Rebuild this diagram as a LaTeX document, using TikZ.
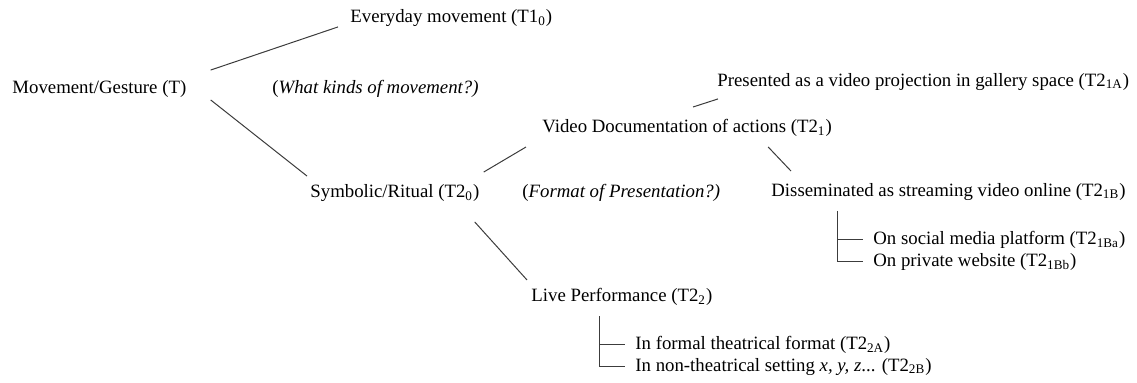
\documentclass[tikz,border=0pt]{standalone}
\usepackage{fontspec}
\setmainfont{Liberation Serif}
\usetikzlibrary{calc}
\definecolor{linkclr}{RGB}{60,60,60}
\tikzset{
  % Text nodes
  term/.style     = {anchor=west, inner sep=0pt, font=\fontsize{9.4}{11}\selectfont},
  % Connectors
  link/.style     = {draw=linkclr, line width=0.5pt},
  treeline/.style = {draw=linkclr, line width=0.5pt},
}

\begin{document}
\begin{tikzpicture}[x=0.5pt, y=-0.5pt]
  \useasboundingbox (0,0) rectangle (1137,383);
  % Root and first split
  \node[term] (mg) at (12,89)  {Movement/Gesture (T)};
  \node[term] (ev) at (350,18) {Everyday movement (T1\textsubscript{0})};
  \node[term] (q1) at (272,89) {(\textit{What kinds of movement?)}};
  \node[term] (sr) at (310,193) {Symbolic/Ritual (T2\textsubscript{0})};
  \draw[link] ([xshift=12pt,yshift=5pt]mg.north east) -- ([xshift=-6pt]ev.south west);
  \draw[link] ([xshift=12pt,yshift=-1pt]mg.south east) -- ([xshift=-1.5pt,yshift=4pt]sr.north west);
  % Format of presentation
  \node[term] (vd) at (542,128) {Video Documentation of actions (T2\textsubscript{1})};
  \node[term] (q2) at (522,193) {(\textit{Format of Presentation?)}};
  \node[term] (lp) at (531,297) {Live Performance (T2\textsubscript{2})};
  \draw[link] ([xshift=2pt,yshift=6pt]sr.north east) -- ([xshift=-8pt,yshift=-5pt]vd.south west);
  \draw[link] ([xshift=-2.5pt,yshift=-10pt]sr.south east) -- ([xshift=-2pt,yshift=4pt]lp.north west);
  % Video branches
  \node[term] (pr) at (717,82)  {Presented as a video projection in gallery space (T2\textsubscript{1A})};
  \node[term] (ds) at (771,192) {Disseminated as streaming video online (T2\textsubscript{1B})};
  \draw[link] ([xshift=3pt,yshift=6pt]vd.north) -- ([xshift=0.5pt,yshift=-4pt]pr.south west);
  \draw[link] ([xshift=-32pt,yshift=-5pt]vd.south east) -- ([xshift=10pt,yshift=6pt]ds.north west);
  % Online platforms
  \node[term] (sm) at (873,240) {On social media platform (T2\textsubscript{1Ba})};
  \node[term] (pw) at (873,262) {On private website (T2\textsubscript{1Bb})};
  \coordinate (dsroot) at ([xshift=33pt,yshift=-5pt]ds.south west);
  \draw[treeline] (dsroot) |- ([xshift=-5pt]pw.west);
  \draw[treeline] (dsroot |- sm.west) -- ([xshift=-5pt]sm.west);
  % Live settings
  \node[term] (ft) at (635,345) {In formal theatrical format (T2\textsubscript{2A})};
  \node[term] (nt) at (635,367) {In non-theatrical setting \textit{x, y, z}... (T2\textsubscript{2B})};
  \coordinate (lproot) at ([xshift=34pt,yshift=-5pt]lp.south west);
  \draw[treeline] (lproot) |- ([xshift=-5pt]nt.west);
  \draw[treeline] (lproot |- ft.west) -- ([xshift=-5pt]ft.west);
\end{tikzpicture}
\end{document}
